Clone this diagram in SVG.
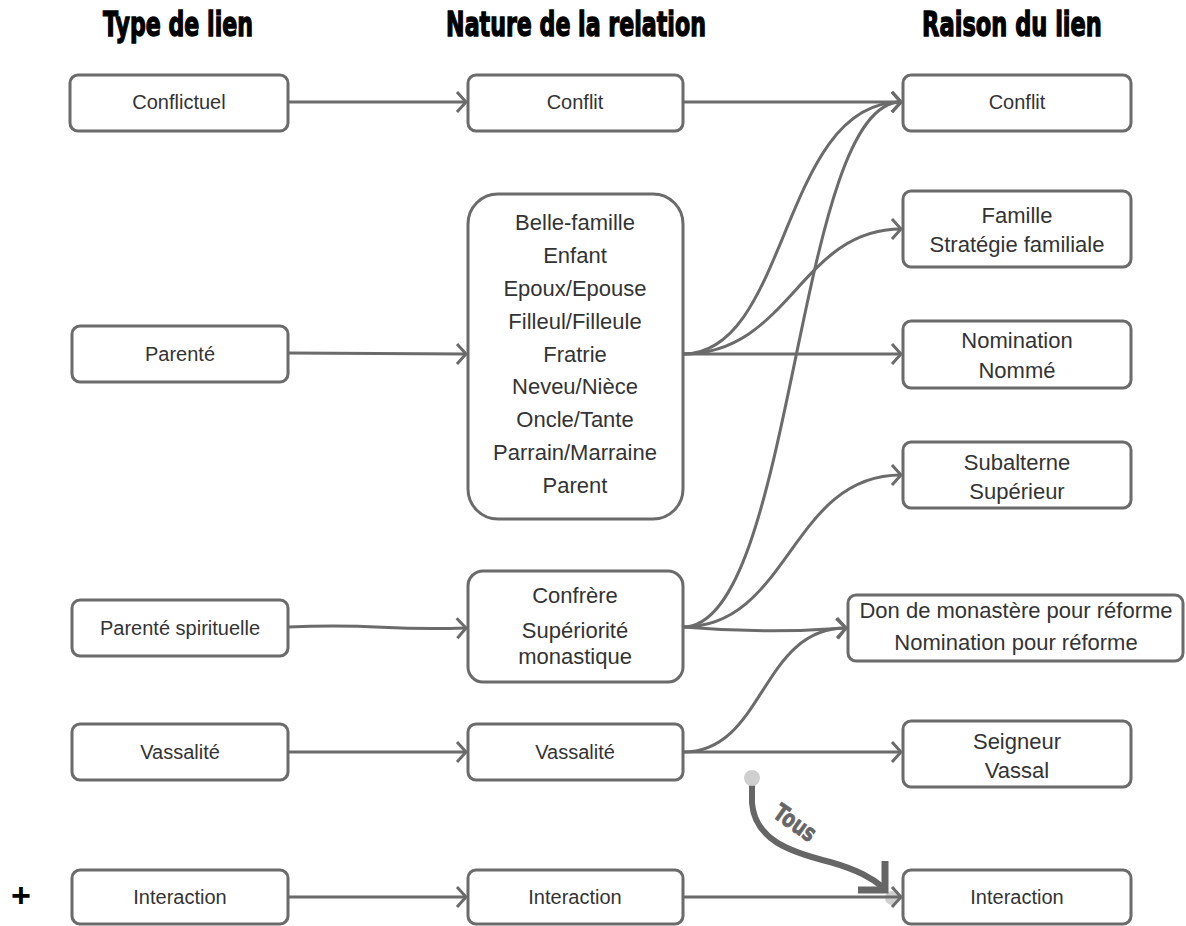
<svg xmlns="http://www.w3.org/2000/svg" width="1186" height="926" viewBox="0 0 1186 926">
<defs>
<style>
.box{fill:#fff;stroke:#6b6b6b;stroke-width:3}
.t{font-family:"Liberation Sans",Arial,sans-serif;font-size:20px;fill:#333;text-anchor:middle}
.tl{font-family:"Liberation Sans",Arial,sans-serif;font-size:22px;fill:#333;text-anchor:middle}
.h{font-family:"DejaVu Sans","Liberation Sans",sans-serif;font-weight:bold;font-size:34px;fill:#000;stroke:#000;stroke-width:1.4px;text-anchor:middle}
.c{fill:none;stroke:#6b6b6b;stroke-width:3;marker-end:url(#ah)}
</style>
<marker id="ah" markerUnits="userSpaceOnUse" markerWidth="20" markerHeight="26" refX="12" refY="13" orient="auto" viewBox="0 0 20 26">
<path d="M3,3 L12,13 L3,23" fill="none" stroke="#6b6b6b" stroke-width="3"/>
</marker>
</defs>
<rect width="1186" height="926" fill="#fff"/>

<g id="headers">
<text class="h" transform="translate(178,36) scale(0.62,1)" x="0" y="0" textLength="242" lengthAdjust="spacingAndGlyphs">Type de lien</text>
<text class="h" transform="translate(576,36) scale(0.62,1)" x="0" y="0" textLength="419" lengthAdjust="spacingAndGlyphs">Nature de la relation</text>
<text class="h" transform="translate(1012,36) scale(0.62,1)" x="0" y="0" textLength="290" lengthAdjust="spacingAndGlyphs">Raison du lien</text>
</g>

<circle cx="892" cy="898" r="7" fill="#cfcfcf"/>

<g id="connectors">
<path class="c" d="M288,102 L466,102"/>
<path class="c" d="M683,102 L901,102"/>
<path class="c" d="M288,353 L466,354"/>
<path class="c" d="M683,354 C790,354 780,102 901,102"/>
<path class="c" d="M683,354 C790,354 800,229 901,229"/>
<path class="c" d="M683,354 L901,354"/>
<path class="c" d="M288,627 C380,623 380,631 466,628"/>
<path class="c" d="M683,627 C795,627 795,102 901,102"/>
<path class="c" d="M683,627 C790,627 790,475 901,475"/>
<path class="c" d="M683,627 Q765,634 846,628"/>
<path class="c" d="M288,752 L466,752"/>
<path class="c" d="M683,752 C765,752 760,628 846,628"/>
<path class="c" d="M683,752 L901,752"/>
<path class="c" d="M288,897 L466,897"/>
<path class="c" d="M683,897 L901,897"/>
</g>

<g id="tous">
<path d="M752,780 L752,803 C755,840 790,852 830,862 C858,870 872,878 884,888" fill="none" stroke="#666" stroke-width="6"/>
<path d="M885,861 L885,890 L858,890" fill="none" stroke="#666" stroke-width="7"/>
<circle cx="752" cy="778" r="8" fill="#cfcfcf"/>
<text x="795" y="831" transform="rotate(35 795 823)" font-family="DejaVu Sans,Liberation Sans,sans-serif" font-weight="bold" font-size="24" fill="#666" stroke="#666" stroke-width="0.8" text-anchor="middle" textLength="46" lengthAdjust="spacingAndGlyphs">Tous</text>
</g>

<text x="21" y="907" font-family="Liberation Sans,Arial,sans-serif" font-weight="bold" font-size="34" fill="#000" text-anchor="middle">+</text>

<g id="n-conflictuel"><rect class="box" x="70" y="75" width="218" height="56" rx="8"/><text class="t" x="179" y="109">Conflictuel</text></g>
<g id="n-parente"><rect class="box" x="72" y="326" width="216" height="56" rx="8"/><text class="t" x="180" y="361">Parenté</text></g>
<g id="n-parente-spi"><rect class="box" x="72" y="600" width="216" height="56" rx="8"/><text class="t" x="180" y="635">Parenté spirituelle</text></g>
<g id="n-vassalite-l"><rect class="box" x="72" y="724" width="216" height="56" rx="8"/><text class="t" x="180" y="759">Vassalité</text></g>
<g id="n-interaction-l"><rect class="box" x="72" y="870" width="216" height="54" rx="8"/><text class="t" x="180" y="904">Interaction</text></g>

<g id="n-conflit-m"><rect class="box" x="468" y="75" width="215" height="56" rx="8"/><text class="t" x="575" y="109">Conflit</text></g>
<g id="n-famille-m"><rect class="box" x="468" y="194" width="215" height="325" rx="30"/>
<text class="tl" x="575" y="230">Belle-famille</text>
<text class="tl" x="575" y="263">Enfant</text>
<text class="tl" x="575" y="296">Epoux/Epouse</text>
<text class="tl" x="575" y="329">Filleul/Filleule</text>
<text class="tl" x="575" y="362">Fratrie</text>
<text class="tl" x="575" y="394">Neveu/Nièce</text>
<text class="tl" x="575" y="427">Oncle/Tante</text>
<text class="tl" x="575" y="460">Parrain/Marraine</text>
<text class="tl" x="575" y="493">Parent</text>
</g>
<g id="n-confrere"><rect class="box" x="468" y="571" width="215" height="111" rx="15"/>
<text class="tl" x="575" y="603">Confrère</text>
<text class="tl" x="575" y="638">Supériorité</text>
<text class="tl" x="575" y="664">monastique</text>
</g>
<g id="n-vassalite-m"><rect class="box" x="468" y="724" width="215" height="56" rx="8"/><text class="t" x="575" y="759">Vassalité</text></g>
<g id="n-interaction-m"><rect class="box" x="468" y="870" width="215" height="54" rx="8"/><text class="t" x="575" y="904">Interaction</text></g>

<g id="n-conflit-r"><rect class="box" x="903" y="75" width="228" height="56" rx="8"/><text class="t" x="1017" y="109">Conflit</text></g>
<g id="n-famille-r"><rect class="box" x="903" y="191" width="228" height="76" rx="8"/><text class="tl" x="1017" y="223">Famille</text><text class="tl" x="1017" y="252">Stratégie familiale</text></g>
<g id="n-nomination-r"><rect class="box" x="903" y="321" width="228" height="67" rx="8"/><text class="tl" x="1017" y="348">Nomination</text><text class="tl" x="1017" y="378">Nommé</text></g>
<g id="n-subalterne-r"><rect class="box" x="903" y="442" width="228" height="66" rx="8"/><text class="tl" x="1017" y="470">Subalterne</text><text class="tl" x="1017" y="499">Supérieur</text></g>
<g id="n-don-r"><rect class="box" x="848" y="595" width="335" height="66" rx="8"/><text class="tl" x="1016" y="618">Don de monastère pour réforme</text><text class="tl" x="1016" y="650">Nomination pour réforme</text></g>
<g id="n-seigneur-r"><rect class="box" x="903" y="721" width="228" height="66" rx="8"/><text class="tl" x="1017" y="749">Seigneur</text><text class="tl" x="1017" y="778">Vassal</text></g>
<g id="n-interaction-r"><rect class="box" x="903" y="870" width="228" height="54" rx="8"/><text class="t" x="1017" y="904">Interaction</text></g>
</svg>
